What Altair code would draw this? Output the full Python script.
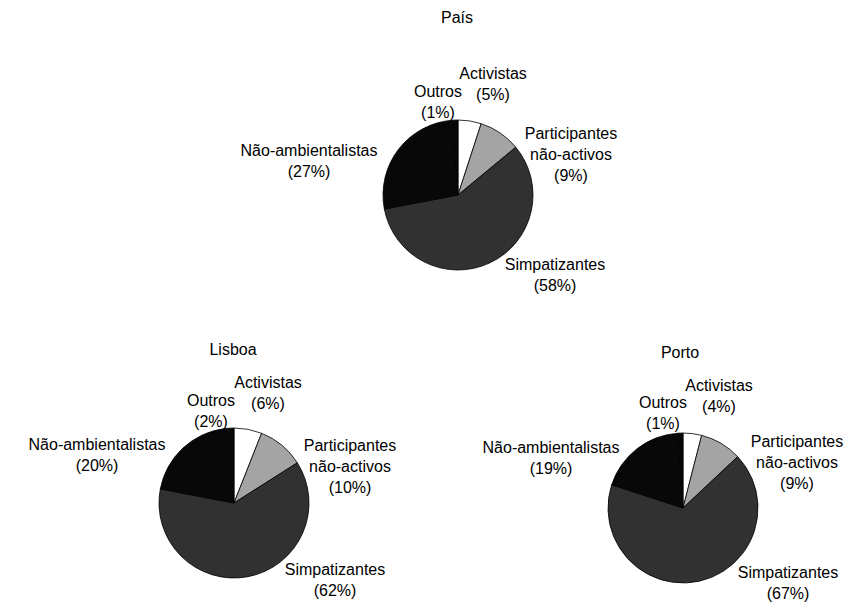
import math
import altair as alt
import pandas as pd

# ---- data ----
regions = ["País", "Lisboa", "Porto"]
categories = ["Activistas", "Participantes não-activos", "Simpatizantes",
              "Não-ambientalistas", "Outros"]
label_names = ["Activistas", "Participantes\nnão-activos", "Simpatizantes",
               "Não-ambientalistas", "Outros"]
pais_values = [5, 9, 58, 27, 1]
lisboa_values = [6, 10, 62, 20, 2]
porto_values = [4, 9, 67, 19, 1]
values = {"País": pais_values, "Lisboa": lisboa_values, "Porto": porto_values}

# ---- layout (page pixel coordinates) ----
pie_center = {"País": (458, 195), "Lisboa": (234, 503), "Porto": (683, 508)}
title_offset = {"País": (-1, -177), "Lisboa": (-1, -153), "Porto": (-3, -155)}
# offsets of the centre of each label block from the pie centre
label_offset = {
    "País": {
        "Activistas": (35, -111),
        "Participantes não-activos": (113, -40),
        "Simpatizantes": (97, 80),
        "Não-ambientalistas": (-149, -34),
        "Outros": (-20, -93),
    },
    "Lisboa": {
        "Activistas": (34, -110),
        "Participantes não-activos": (116, -36),
        "Simpatizantes": (101, 77),
        "Não-ambientalistas": (-137, -48),
        "Outros": (-23, -92),
    },
    "Porto": {
        "Activistas": (36, -112),
        "Participantes não-activos": (114, -45),
        "Simpatizantes": (105, 75),
        "Não-ambientalistas": (-132, -50),
        "Outros": (-20, -95),
    },
}
RADIUS = 75
FONT = "Liberation Sans"
FS = 16
LH = 21

arc_rows, label_rows, title_rows = [], [], []
for r in regions:
    cx, cy = pie_center[r]
    cum = 0
    for i, (c, v) in enumerate(zip(categories, values[r])):
        arc_rows.append({"region": r, "cat": c, "order": i, "start": cum,
                         "end": cum + v, "cx": cx, "cy": cy})
        cum += v
        dx, dy = label_offset[r][c]
        txt = f"{label_names[i]}\n({v}%)"
        nlines = txt.count("\n") + 1
        # Vega anchors the first line; shift so the block is centred
        label_rows.append({"region": r, "cat": c, "label": txt,
                           "lx": cx + dx,
                           "ly": cy + dy - (nlines - 1) * LH / 2})
    tx, ty = title_offset[r]
    title_rows.append({"region": r, "tx": cx + tx, "ty": cy + ty})

arcs = pd.DataFrame(arc_rows)
labels = pd.DataFrame(label_rows)
titles = pd.DataFrame(title_rows)

W, H = 851, 596
xs = alt.Scale(domain=[8, 8 + W], range=[0, W], nice=False, zero=False)
ys = alt.Scale(domain=[8, 8 + H], range=[0, H], nice=False, zero=False)

color_scale = alt.Scale(domain=categories,
                        range=["#ffffff", "#a4a4a4", "#313131", "#080808", "#080808"])

pies = alt.Chart(arcs).mark_arc(outerRadius=RADIUS, stroke="black", strokeWidth=0.8).encode(
    x=alt.X("cx:Q", scale=xs, axis=None),
    y=alt.Y("cy:Q", scale=ys, axis=None),
    theta=alt.Theta("start:Q", scale=alt.Scale(domain=[0, 100], range=[0, 2 * math.pi])),
    theta2="end:Q",
    color=alt.Color("cat:N", scale=color_scale, legend=None),
)

text = alt.Chart(labels).mark_text(font=FONT, fontSize=FS, lineBreak="\n",
                                   lineHeight=LH, align="center",
                                   baseline="middle", color="black").encode(
    x=alt.X("lx:Q", scale=xs, axis=None),
    y=alt.Y("ly:Q", scale=ys, axis=None),
    text="label:N",
)

ttl = alt.Chart(titles).mark_text(font=FONT, fontSize=FS, align="center",
                                  baseline="middle", color="black").encode(
    x=alt.X("tx:Q", scale=xs, axis=None),
    y=alt.Y("ty:Q", scale=ys, axis=None),
    text="region:N",
)

chart = alt.layer(pies, text, ttl).properties(
    width=W, height=H, padding=0, autosize=alt.AutoSizeParams(type="none"),
    background="white",
).configure_view(stroke=None)

chart.save("out.html", embed_options={"renderer": "svg", "actions": False})
